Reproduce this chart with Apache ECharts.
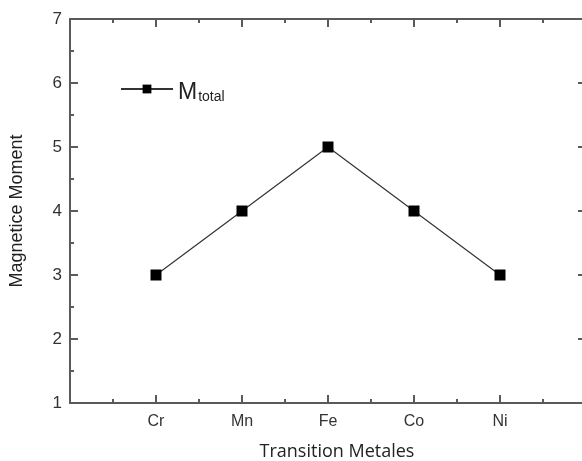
<!DOCTYPE html>
<html>
<head>
<meta charset="utf-8">
<script src="https://cdn.jsdelivr.net/npm/echarts@6/dist/echarts.min.js"></script>
<style>
  html, body { margin: 0; padding: 0; background: #fff; }
  #chart { width: 582px; height: 461px; }
</style>
</head>
<body>
<div id="chart"></div>
<script>
// Transition metals on the x axis and their total magnetic moment
const metals = ['Cr', 'Mn', 'Fe', 'Co', 'Ni'];
const totalMoment = [3, 4, 5, 4, 3];
const yTicks = [1, 2, 3, 4, 5, 6, 7];

const axisColor = '#5a5a5a';
const points = metals.map((m, i) => [i + 1, totalMoment[i]]);

const chart = echarts.init(document.getElementById('chart'), null, { renderer: 'canvas' });

const frameAxis = {
  axisLine: { show: true, onZero: false, lineStyle: { color: axisColor, width: 2 } },
  axisTick: { show: true, inside: true, length: 8, lineStyle: { color: axisColor, width: 2 } },
  minorTick: { show: true, splitNumber: 2, length: 4, lineStyle: { color: axisColor, width: 2 } },
  splitLine: { show: false }
};

chart.setOption({
  animation: false,
  backgroundColor: '#ffffff',
  grid: { left: 70, top: 19, width: 516, height: 384, containLabel: false, outerBoundsMode: 'none' },
  legend: {
    left: 120,
    top: 81,
    padding: 0,
    itemWidth: 52,
    itemHeight: 11,
    itemGap: 6,
    data: ['Mtotal'],
    formatter: () => '{m|M}{s|total}',
    textStyle: {
      rich: {
        m: { fontFamily: 'Liberation Sans', fontSize: 23, color: '#222', verticalAlign: 'bottom' },
        s: { fontFamily: 'Liberation Sans', fontSize: 14, color: '#222', padding: [16, 0, 0, 1], verticalAlign: 'bottom' }
      }
    }
  },
  xAxis: [
    Object.assign({
      type: 'value', position: 'bottom', min: 0, max: 6, interval: 1,
      name: 'Transition Metales', nameLocation: 'middle', nameGap: 40,
      nameTextStyle: { fontFamily: 'Open Sans', fontSize: 18, color: '#222', padding: [0, 0, 0, 18] },
      axisLabel: {
        margin: 11, fontFamily: 'Liberation Sans', fontSize: 16, color: '#333',
        formatter: v => metals[v - 1] || ''
      }
    }, frameAxis),
    Object.assign({
      type: 'value', position: 'top', min: 0, max: 6, interval: 1,
      axisLabel: { show: false }
    }, frameAxis)
  ],
  yAxis: [
    Object.assign({
      type: 'value', position: 'left', min: 1, max: 7, interval: 1,
      name: 'Magnetice Moment', nameLocation: 'middle', nameGap: 44, nameRotate: 90,
      nameTextStyle: { fontFamily: 'Liberation Sans', fontSize: 18, color: '#222' },
      axisLabel: {
        margin: 8, fontFamily: 'Liberation Sans', fontSize: 17, color: '#333',
        formatter: v => (yTicks.indexOf(v) >= 0 ? String(v) : '')
      }
    }, frameAxis),
    Object.assign({
      type: 'value', position: 'right', min: 1, max: 7, interval: 1,
      axisLabel: { show: false }
    }, frameAxis)
  ],
  series: [{
    name: 'Mtotal',
    type: 'line',
    data: points,
    symbol: 'rect',
    symbolSize: 11,
    lineStyle: { color: '#333', width: 1.2 },
    itemStyle: { color: '#000', borderWidth: 0 }
  }]
});
</script>
</body>
</html>
